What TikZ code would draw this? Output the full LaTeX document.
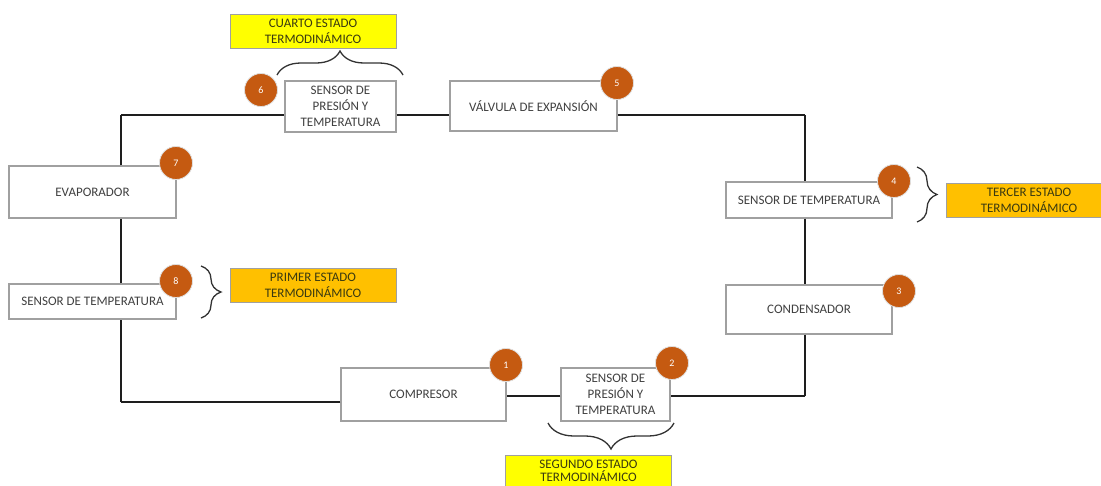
\documentclass[tikz,border=0pt]{standalone}
\usepackage{fontspec}
\setmainfont{Carlito}
\usetikzlibrary{decorations.pathreplacing}
\definecolor{boxline}{HTML}{A0A0A0}
\definecolor{txt}{HTML}{404040}
\definecolor{numfill}{HTML}{C55A11}
\definecolor{yel}{HTML}{FFFF00}
\definecolor{org}{HTML}{FFC000}
\definecolor{wire}{HTML}{1E1E1E}
\definecolor{statetxt}{HTML}{3A3A10}
\begin{document}
\begin{tikzpicture}[x=1pt,y=-1pt,
  unit/.style={draw=boxline, line width=1.2pt, fill=white, text=txt,
    font=\fontsize{13}{16}\selectfont, align=center, inner sep=0pt},
  statebox/.style={draw=boxline, line width=1pt, text=statetxt,
    font=\fontsize{13}{16}\selectfont, align=center, inner sep=0pt,
    minimum width=166pt, minimum height=34pt},
  num/.style={circle, fill=numfill, draw=white!75!gray, line width=0.8pt,
    minimum size=33pt, inner sep=0pt, text=white, font=\fontsize{10}{12}\selectfont},
  wireline/.style={draw=wire, line width=2pt},
  bracket/.style={draw=txt!80!black, line width=1.3pt, decorate}
]
\clip (0,0) rectangle (1101,485);
\useasboundingbox (0,0) rectangle (1101,485);

% corners of the loop
\coordinate (tl) at (121,115);
\coordinate (tr) at (805,115);
\coordinate (br) at (805,396);
\coordinate (bl) at (121,402);

% units
\node[unit, minimum width=111pt, minimum height=51pt] (s6) at (340.5,106.5) {SENSOR DE\\PRESIÓN Y\\TEMPERATURA};
\node[unit, minimum width=167pt, minimum height=50pt] (valve) at (533.5,106) {VÁLVULA DE EXPANSIÓN};
\node[unit, minimum width=166pt, minimum height=36pt] (s4) at (809,200) {SENSOR DE TEMPERATURA};
\node[unit, minimum width=166pt, minimum height=49pt] (cond) at (809,309.5) {CONDENSADOR};
\node[unit, minimum width=165pt, minimum height=53pt] (comp) at (423.5,394.5) {COMPRESOR};
\node[unit, minimum width=109pt, minimum height=53pt] (s2) at (615.5,394.5) {SENSOR DE\\PRESIÓN Y\\TEMPERATURA};
\node[unit, minimum width=167pt, minimum height=52pt] (evap) at (92.5,192) {EVAPORADOR};
\node[unit, minimum width=167pt, minimum height=35pt] (s8) at (92.5,301.5) {SENSOR DE TEMPERATURA};

% loop connectors
\draw[wireline] (tl) -- (s6.west |- tl);
\draw[wireline] (s6.east |- tl) -- (valve.west |- tl);
\draw[wireline] (valve.east |- tl) -- (tr);
\draw[wireline] (tr) -- (tr |- s4.north);
\draw[wireline] (tr |- s4.south) -- (tr |- cond.north);
\draw[wireline] (tr |- cond.south) -- (br);
\draw[wireline] (br) -- (s2.east |- br);
\draw[wireline] (s2.west |- br) -- (comp.east |- br);
\draw[wireline] (comp.west |- bl) -- (bl);
\draw[wireline] (bl) -- (tl |- s8.south);
\draw[wireline] (tl |- s8.north) -- (tl |- evap.south);
\draw[wireline] (tl |- evap.north) -- (tl);

% state boxes
\node[statebox, fill=yel] (cuarto) at (313,31) {CUARTO ESTADO\\TERMODINÁMICO};
\node[statebox, fill=org] (tercer) at (1029,200) {TERCER ESTADO\\TERMODINÁMICO};
\node[statebox, fill=org] (primer) at (313,285) {PRIMER ESTADO\\TERMODINÁMICO};
\node[statebox, fill=yel, minimum height=40pt] (segundo) at (588.5,475) {};
\node[text=statetxt, font=\fontsize{13}{13.5}\selectfont, align=center, inner sep=0pt] (segundotxt) at (588.5,471) {SEGUNDO ESTADO\\TERMODINÁMICO};

% braces
\coordinate (b6a) at (277,75);
\coordinate (b6b) at (403,75);
\draw[bracket, decoration={brace, amplitude=24pt}] (b6a) -- (b6b);
\coordinate (b2a) at (674,423);
\coordinate (b2b) at (548,423);
\draw[bracket, decoration={brace, amplitude=26pt}] (b2a) -- (b2b);
\coordinate (b4a) at (917,167);
\coordinate (b4b) at (917,222);
\draw[bracket, decoration={brace, amplitude=20pt}] (b4a) -- (b4b);
\coordinate (b8a) at (201,266);
\coordinate (b8b) at (201,318);
\draw[bracket, decoration={brace, amplitude=20pt}] (b8a) -- (b8b);

% numbers
\node[num] (n1) at (506,365) {1};
\node[num] (n2) at (672,363) {2};
\node[num] (n3) at (899,291) {3};
\node[num] (n4) at (894,181) {4};
\node[num] (n5) at (617,83) {5};
\node[num] (n6) at (261,90) {6};
\node[num] (n7) at (176,163) {7};
\node[num] (n8) at (176,281) {8};
\end{tikzpicture}
\end{document}
